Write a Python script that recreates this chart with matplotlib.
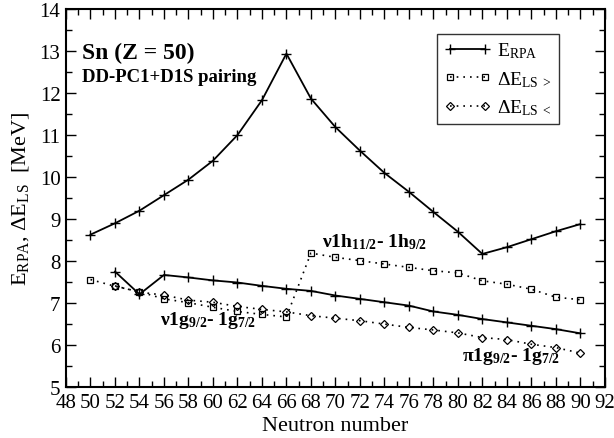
import numpy as np
import matplotlib.pyplot as plt
from matplotlib.ticker import MultipleLocator

plt.rcParams['font.family'] = ['Liberation Serif', 'DejaVu Serif']
plt.rcParams['mathtext.fontset'] = 'custom'
plt.rcParams['mathtext.rm'] = 'Liberation Serif'
plt.rcParams['mathtext.it'] = 'Liberation Serif:italic'
plt.rcParams['mathtext.bf'] = 'Liberation Serif:bold'

n_rpa = np.arange(50, 92, 2)
e_rpa = [8.63, 8.90, 9.20, 9.57, 9.94, 10.39, 11.00, 11.83, 12.94, 11.87, 11.19,
         10.63, 10.10, 9.65, 9.17, 8.70, 8.17, 8.33, 8.52, 8.71, 8.88]

n_pi = np.arange(52, 92, 2)
e_pi = [7.75, 7.21, 7.67, 7.61, 7.54, 7.49, 7.41, 7.34, 7.29, 7.18,
        7.10, 7.02, 6.94, 6.80, 6.72, 6.62, 6.54, 6.46, 6.38, 6.28]

n_gt = np.arange(50, 92, 2)
ls_gt = [7.56, 7.40, 7.27, 7.10, 7.01, 6.90, 6.80, 6.73, 6.67, 8.19, 8.09,
         8.01, 7.93, 7.85, 7.77, 7.72, 7.53, 7.45, 7.33, 7.14, 7.08]

n_lt = np.arange(52, 92, 2)
ls_lt = [7.41, 7.26, 7.19, 7.07, 7.02, 6.92, 6.85, 6.79, 6.70, 6.64,
         6.58, 6.50, 6.42, 6.36, 6.29, 6.18, 6.13, 6.02, 5.94, 5.81]

fig = plt.figure(figsize=(6.14, 4.39), dpi=100)
ax = fig.add_axes([0.1075, 0.116, 0.8775, 0.861])

ax.plot(n_rpa, e_rpa, color='black', lw=1.3, marker='+', ms=7, mew=1.0,
        label=r'E$_{\rm RPA}$')
ax.plot(n_gt, ls_gt, color='black', lw=1.2, ls=(0, (1, 3)), marker='s', ms=5,
        mfc='none', mew=0.9, label=r'$\Delta$E$_{\rm LS\ >}$')
ax.plot(n_lt, ls_lt, color='black', lw=1.2, ls=(0, (1, 3)), marker='D', ms=4.5,
        mfc='none', mew=0.9, label=r'$\Delta$E$_{\rm LS\ <}$')
ax.plot(n_pi, e_pi, color='black', lw=1.3, marker='+', ms=7, mew=1.0)

ax.set_xlim(48, 92)
ax.set_ylim(5, 14)
ax.xaxis.set_major_locator(MultipleLocator(2))
ax.xaxis.set_minor_locator(MultipleLocator(1))
ax.yaxis.set_major_locator(MultipleLocator(1))
ax.yaxis.set_minor_locator(MultipleLocator(0.5))
ax.tick_params(which='both', direction='in', top=True, right=True, labelsize=15)
ax.tick_params(axis='x', pad=4)
ax.tick_params(axis='y', pad=4)
ax.tick_params(which='major', length=7, width=1.0)
ax.tick_params(which='minor', length=4, width=1.0)
for s in ax.spines.values():
    s.set_linewidth(1.5)

ax.set_xlabel('Neutron number', fontsize=16, labelpad=3)
ax.set_ylabel(r'E$_{\rm RPA}$, $\Delta$E$_{\rm LS}$  [MeV]', fontsize=16, labelpad=6)

ax.text(49.3, 12.97, 'Sn (Z = 50)', fontsize=17, fontweight='bold', va='center')
ax.text(49.3, 12.4, 'DD-PC1+D1S pairing', fontsize=13.5, fontweight='bold', va='center')
ax.text(68.9, 8.35, r'$\mathbf{\nu 1h_{11/2}}$- $\mathbf{1h_{9/2}}$', fontsize=14,
        fontweight='bold', va='baseline')
ax.text(55.7, 6.5, r'$\mathbf{\nu 1g_{9/2}}$- $\mathbf{1g_{7/2}}$', fontsize=14,
        fontweight='bold', va='baseline')
ax.text(80.3, 5.64, r'$\mathbf{\pi 1g_{9/2}}$- $\mathbf{1g_{7/2}}$', fontsize=14,
        fontweight='bold', va='baseline')

leg = ax.legend(loc='upper right', bbox_to_anchor=(0.915, 0.935), fontsize=14,
                frameon=True, fancybox=False, edgecolor='black', numpoints=2,
                handlelength=2.4, handletextpad=0.35, borderpad=0.35, labelspacing=0.45,
                borderaxespad=0)
leg.get_frame().set_linewidth(1.0)

fig.savefig('out.png', dpi=100)
